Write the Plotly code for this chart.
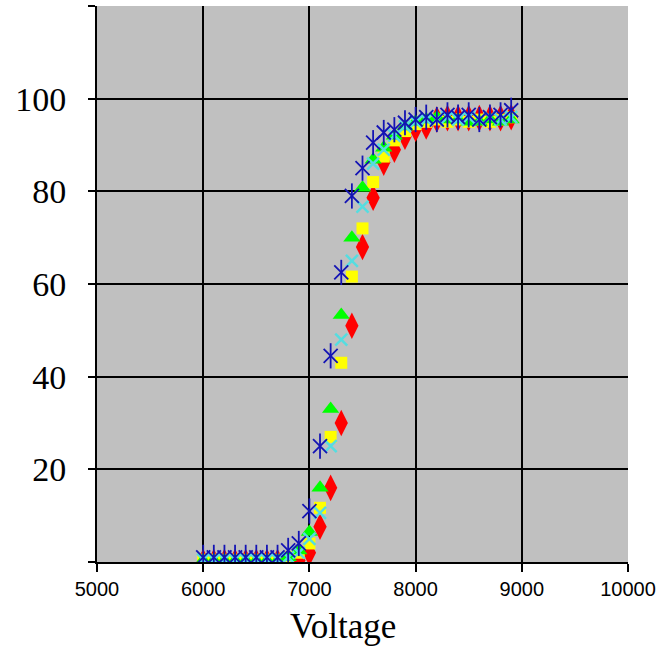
import plotly.graph_objects as go

voltage = [6000, 6100, 6200, 6300, 6400, 6500, 6600, 6700, 6800, 6900,
           7000, 7100, 7200, 7300, 7400, 7500, 7600, 7700, 7800, 7900,
           8000, 8100, 8200, 8300, 8400, 8500, 8600, 8700, 8800, 8900]

red_diamond = [0.0, 0.0, 0.0, 0.0, 0.0, 0.0, 0.0, 0.0, 0.0, 0.3,
               2.0, 7.6, 16.0, 30.0, 51.0, 68.0, 78.6, 86.2, 89.0, 91.8,
               93.5, 94.0, 95.5, 95.8, 95.8, 95.8, 95.8, 95.8, 95.8, 96.0]
yellow_square = [0.5, 0.5, 0.5, 0.5, 0.5, 0.5, 0.5, 0.5, 1.0, 2.0,
                 4.0, 11.7, 27.0, 43.0, 61.6, 72.0, 82.0, 87.5, 91.0, 93.0,
                 94.5, 95.0, 95.5, 95.0, 95.5, 95.0, 95.5, 95.0, 95.5, 96.0]
green_triangle = [0.3, 0.3, 0.3, 0.3, 0.3, 0.3, 0.3, 0.3, 1.0, 2.5,
                  6.5, 16.0, 33.0, 53.3, 70.0, 80.8, 86.8, 89.4, 92.0, 94.0,
                  95.0, 95.5, 96.0, 95.5, 95.5, 95.0, 95.0, 95.5, 95.0, 95.5]
cyan_x = [0.5, 0.5, 0.5, 0.5, 0.5, 0.5, 0.5, 0.5, 1.0, 2.0,
          5.0, 10.6, 25.0, 48.0, 65.0, 76.7, 86.0, 89.0, 92.0, 94.0,
          95.0, 95.5, 95.5, 96.0, 95.5, 96.0, 95.5, 96.0, 95.5, 96.0]
blue_star = [1.0, 1.0, 1.0, 1.0, 1.0, 1.0, 1.0, 1.0, 2.5, 4.0,
             11.0, 25.0, 44.5, 62.5, 79.0, 85.0, 90.5, 92.7, 93.3, 94.8,
             95.5, 96.0, 95.5, 96.5, 96.0, 96.5, 95.5, 96.0, 96.5, 97.5]

y_ticks = [0, 20, 40, 60, 80, 100, 120]
y_ticktext = ["", "20", "40", "60", "80", "100", ""]
x_ticks = [5000, 6000, 7000, 8000, 9000, 10000]
x_ticktext = ["5000", "6000", "7000", "8000", "9000", "10000"]

fig = go.Figure()

fig.add_trace(go.Scatter(x=voltage, y=red_diamond, mode="markers",
                         marker=dict(symbol="diamond-tall", size=19, color="#FF0000",
                                     line=dict(width=0))))
fig.add_trace(go.Scatter(x=voltage, y=yellow_square, mode="markers",
                         marker=dict(symbol="square", size=12, color="#FFFF00",
                                     line=dict(width=0))))
fig.add_trace(go.Scatter(x=voltage, y=green_triangle, mode="markers",
                         marker=dict(symbol="triangle-up", size=15, color="#00FF00",
                                     line=dict(width=0))))
fig.add_trace(go.Scatter(x=voltage, y=cyan_x, mode="markers",
                         marker=dict(symbol="x-thin-open", size=12, color="#55DDE0",
                                     line=dict(width=2.5, color="#55DDE0"))))
fig.add_trace(go.Scatter(x=voltage, y=blue_star, mode="markers",
                         marker=dict(symbol="x-thin-open", size=14, color="#1414B4",
                                     line=dict(width=1.8, color="#1414B4"))))
fig.add_trace(go.Scatter(x=voltage, y=blue_star, mode="markers",
                         marker=dict(symbol="line-ns-open", size=18, color="#1414B4",
                                     line=dict(width=1.8, color="#1414B4"))))

fig.update_layout(
    width=657, height=650,
    margin=dict(l=97, r=29, t=6, b=88),
    paper_bgcolor="white",
    plot_bgcolor="#C0C0C0",
    showlegend=False,
    xaxis=dict(
        range=[5000, 10000],
        tickvals=x_ticks, ticktext=x_ticktext,
        automargin=False,
        ticks="outside", ticklen=8, tickwidth=1.5, tickcolor="black",
        showgrid=True, gridcolor="black", gridwidth=1.5,
        showline=True, linecolor="black", linewidth=2,
        zeroline=False,
        ticklabelstandoff=0,
        tickfont=dict(family="Liberation Sans, Arial, sans-serif", size=20, color="black"),
    ),
    yaxis=dict(
        range=[0, 120],
        tickvals=y_ticks, ticktext=y_ticktext,
        automargin=False,
        ticks="outside", ticklen=7, tickwidth=1.5, tickcolor="black",
        showgrid=True, gridcolor="black", gridwidth=2,
        showline=True, linecolor="black", linewidth=2,
        zeroline=False,
        ticklabelstandoff=15,
        tickfont=dict(family="Liberation Serif, Times New Roman, serif", size=34, color="black"),
    ),
    annotations=[dict(
        text="Voltage", xref="paper", yref="paper", x=0.463, y=0,
        yshift=-64, xanchor="center", yanchor="middle", showarrow=False,
        font=dict(family="Liberation Serif, Times New Roman, serif", size=35, color="black"),
    )],
)

fig.write_html("out.html")
